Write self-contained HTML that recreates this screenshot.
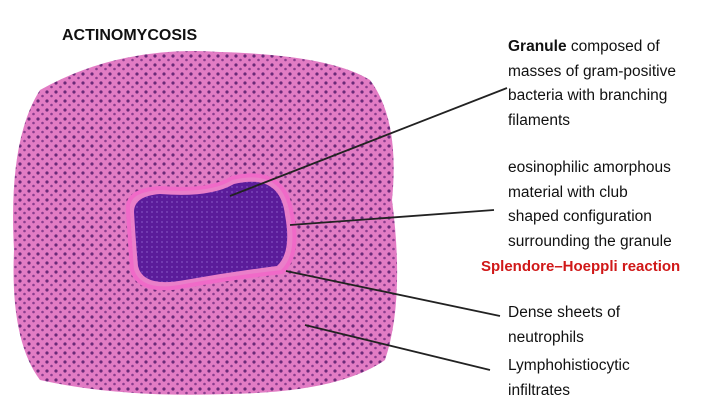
<!DOCTYPE html>
<html><head><style>
body{margin:0;width:720px;height:404px;background:#fff;position:relative;overflow:hidden;font-family:"Liberation Sans",sans-serif}
.t{position:absolute;font-size:15.5px;line-height:24.5px;color:#111}
</style></head><body>
<svg width="720" height="404" style="position:absolute;left:0;top:0">
<defs>
<pattern id="d" width="9" height="9" patternUnits="userSpaceOnUse">
<rect width="9" height="9" fill="#e27cc4"/>
<circle cx="2" cy="2" r="1.6" fill="#6a2a78"/>
<circle cx="6.5" cy="6" r="1.3" fill="#8a3d8e"/>
</pattern>
<pattern id="g" width="5" height="5" patternUnits="userSpaceOnUse">
<rect width="5" height="5" fill="#5b1c9a"/>
<circle cx="2" cy="2" r="1" fill="#7a44b8"/>
</pattern>
</defs>
<path d="M40 90 Q120 45 220 52 Q330 55 370 80 Q400 120 392 200 Q405 300 385 360 Q340 392 230 394 Q120 398 40 380 Q10 340 14 250 Q8 140 40 90Z" fill="url(#d)"/>
<path d="M128 210 Q126 190 160 188 Q210 192 232 178 Q285 165 292 215 Q300 255 282 272 Q230 278 185 286 Q140 295 132 270 Q130 245 128 210Z" fill="#ea7fc9" stroke="#f06ac8" stroke-width="4"/>
<path d="M134 212 Q134 196 160 194 Q210 198 234 184 Q280 173 285 215 Q292 252 277 266 Q230 272 185 280 Q143 288 138 266 Q136 245 134 212Z" fill="url(#g)"/>
<g stroke="#222" stroke-width="1.8">
<line x1="230" y1="196" x2="507" y2="88"/>
<line x1="290" y1="225" x2="494" y2="210"/>
<line x1="286" y1="271" x2="500" y2="316"/>
<line x1="305" y1="325" x2="490" y2="370"/>
</g>
</svg>
<div class="t" style="left:62px;top:24px;font-weight:bold;font-size:16px">ACTINOMYCOSIS</div>
<div class="t" style="left:508px;top:35px"><b>Granule</b> composed of<br>masses of gram-positive<br>bacteria with branching<br>filaments</div>
<div class="t" style="left:508px;top:156px">eosinophilic amorphous<br>material with club<br>shaped configuration<br>surrounding the granule</div>
<div class="t" style="left:481px;top:255px;color:#d01818;font-weight:bold;font-size:15px">Splendore–Hoeppli reaction</div>
<div class="t" style="left:508px;top:301px">Dense sheets of<br>neutrophils</div>
<div class="t" style="left:508px;top:354px">Lymphohistiocytic<br>infiltrates</div>
</body></html>
